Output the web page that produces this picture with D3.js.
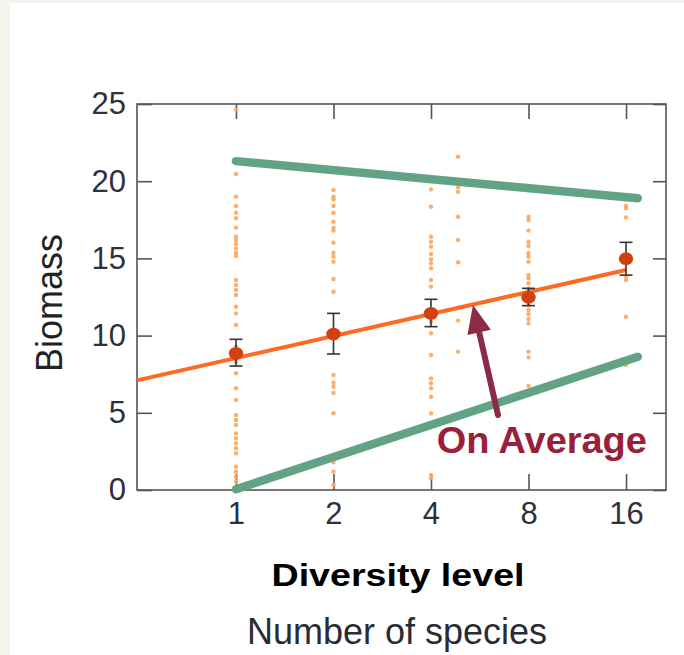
<!DOCTYPE html>
<html>
<head>
<meta charset="utf-8">
<script src="https://cdn.jsdelivr.net/npm/d3@7"></script>
<style>
  body { margin: 0; background: #f3f4eb; }
  svg { display: block; }
</style>
</head>
<body>
<svg></svg>
<script>
// diversity levels and group means
const levels = [1, 2, 4, 8, 16];
const means = [8.85, 10.1, 11.44, 12.48, 14.98];
const errLow = [8.03, 8.81, 10.58, 11.94, 13.92];
const errHigh = [9.76, 11.44, 12.35, 13.06, 16.04];

// individual plots per level
const plots1 = [24.65, 20.47, 19.0, 18.39, 17.96, 17.6, 16.99, 16.41, 16.19, 15.93, 15.65, 15.37, 15.16,
  13.6, 13.28, 12.95, 12.63, 11.87, 11.44, 10.69, 9.28, 8.31, 7.56, 6.59, 5.83, 4.86, 4.53, 4.21,
  3.67, 3.35, 3.02, 2.7, 2.38, 1.51, 1.19, 0.86, 0.54, 0.21];
const plots2 = [19.43, 19.0, 18.83, 18.39, 17.96, 17.38, 16.99, 16.8, 16.02, 15.37, 15.11, 14.79,
  13.67, 12.84, 7.45, 6.95, 6.69, 6.28, 4.97, 1.8, 1.19, 0.32];
const plots4 = [19.47, 18.35, 16.41, 16.08, 15.76, 15.28, 14.94, 14.68, 14.36, 13.6, 13.17, 10.9,
  10.15, 8.74, 7.23, 6.91, 6.59, 6.04, 4.96, 0.97, 0.76];
const plots5 = [21.59, 19.6, 19.32, 17.7, 16.19, 14.75, 10.97, 8.96];
const plots8 = [17.7, 17.49, 16.8, 16.08, 15.8, 15.33, 15.11, 14.79, 13.92, 13.71, 13.39, 13.06,
  11.98, 11.66, 11.38, 11.08, 10.79, 8.96, 8.59, 6.74];
const plots16 = [18.39, 18.24, 17.66, 13.82, 13.6, 11.22, 8.1];
const plotLevels = [1, 2, 4, 4.85, 8, 16];

// fitted line and envelope
const fitX = [0.4948, 16];
const fitY = [7.1, 14.25];
const upperX = [1, 17.4];
const upperY = [21.3, 18.9];
const lowerX = [1, 17.4];
const lowerY = [0.05, 8.63];

// annotation arrow (tail -> tip)
const arrowX = [6.44, 5.39];
const arrowY = [4.86, 11.98];

const yTicks = [0, 5, 10, 15, 20, 25];

const width = 684, height = 655;
const svg = d3.select('svg')
    .attr('width', width)
    .attr('height', height);

svg.append('rect')
    .attr('x', 10)
    .attr('y', 3)
    .attr('width', width - 10)
    .attr('height', height - 3)
    .attr('fill', '#ffffff');

const x = d3.scaleLog().base(2)
    .domain([0.4948, 21.26])
    .range([137, 666]);

const y = d3.scaleLinear()
    .domain([0, 25])
    .range([490, 104]);

const tickColor = '#30303a';
const frameColor = '#555555';

// axes with inside ticks on all sides
const styleAxis = g => {
  g.select('.domain').remove();
  g.selectAll('.tick line').attr('stroke', frameColor).attr('stroke-width', 1.6);
  g.selectAll('.tick text')
      .attr('fill', tickColor)
      .style('font-family', 'Liberation Sans, Arial, sans-serif')
      .style('font-size', '31px');
};

svg.append('g')
    .attr('transform', `translate(${x.range()[0]},0)`)
    .call(d3.axisLeft(y).tickValues(yTicks).tickSizeInner(-15).tickSizeOuter(0).tickPadding(11))
    .call(styleAxis);

svg.append('g')
    .attr('transform', `translate(${x.range()[1]},0)`)
    .call(d3.axisRight(y).tickValues(yTicks).tickSizeInner(-13).tickSizeOuter(0).tickFormat(''))
    .call(styleAxis);

svg.append('g')
    .attr('transform', `translate(0,${y.range()[0]})`)
    .call(d3.axisBottom(x).tickValues(levels).tickFormat(d3.format('d')).tickSizeInner(-16).tickSizeOuter(0).tickPadding(12))
    .call(styleAxis);

svg.append('g')
    .attr('transform', `translate(0,${y.range()[1]})`)
    .call(d3.axisTop(x).tickValues(levels).tickSizeInner(-15).tickSizeOuter(0).tickFormat(''))
    .call(styleAxis);

svg.append('rect')
    .attr('x', x.range()[0])
    .attr('y', y.range()[1])
    .attr('width', x.range()[1] - x.range()[0])
    .attr('height', y.range()[0] - y.range()[1])
    .attr('fill', 'none')
    .attr('stroke', frameColor)
    .attr('stroke-width', 1.6);

// scatter of plots
const plotGroups = [plots1, plots2, plots4, plots5, plots8, plots16];
const points = [];
plotGroups.forEach((vals, i) => vals.forEach(v => points.push({ level: plotLevels[i], value: v })));

svg.append('g')
  .selectAll('circle')
  .data(points)
  .join('circle')
    .attr('cx', d => x(d.level))
    .attr('cy', d => y(d.value))
    .attr('r', 2.2)
    .attr('fill', '#fca55a')
    .attr('opacity', 0.9);

const line = d3.line()
    .x(d => x(d[0]))
    .y(d => y(d[1]));

// green envelope lines
svg.append('path')
    .attr('d', line(d3.zip(upperX, upperY)))
    .attr('stroke', '#62a386')
    .attr('stroke-width', 8.5)
    .attr('stroke-linecap', 'round')
    .attr('fill', 'none');

svg.append('path')
    .attr('d', line(d3.zip(lowerX, lowerY)))
    .attr('stroke', '#62a386')
    .attr('stroke-width', 8.5)
    .attr('stroke-linecap', 'round')
    .attr('fill', 'none');

// fitted line
svg.append('path')
    .attr('d', line(d3.zip(fitX, fitY)))
    .attr('stroke', '#fc6a24')
    .attr('stroke-width', 4)
    .attr('fill', 'none');

// error bars and means
const meanData = levels.map((l, i) => ({ level: l, mean: means[i], lo: errLow[i], hi: errHigh[i] }));

const bars = svg.append('g')
    .attr('stroke', '#333333')
    .attr('stroke-width', 1.6);

bars.selectAll('.err')
  .data(meanData)
  .join('line')
    .attr('class', 'err')
    .attr('x1', d => x(d.level))
    .attr('x2', d => x(d.level))
    .attr('y1', d => y(d.lo))
    .attr('y2', d => y(d.hi));

bars.selectAll('.capLo')
  .data(meanData)
  .join('line')
    .attr('class', 'capLo')
    .attr('x1', d => x(d.level) - 6.5)
    .attr('x2', d => x(d.level) + 6.5)
    .attr('y1', d => y(d.lo))
    .attr('y2', d => y(d.lo));

bars.selectAll('.capHi')
  .data(meanData)
  .join('line')
    .attr('class', 'capHi')
    .attr('x1', d => x(d.level) - 6.5)
    .attr('x2', d => x(d.level) + 6.5)
    .attr('y1', d => y(d.hi))
    .attr('y2', d => y(d.hi));

svg.append('g')
  .selectAll('ellipse')
  .data(meanData)
  .join('ellipse')
    .attr('cx', d => x(d.level))
    .attr('cy', d => y(d.mean))
    .attr('rx', 7.2)
    .attr('ry', 6.4)
    .attr('fill', '#d2400f');

// annotation arrow
const arrowColor = '#8d2b47';
const tx = x(arrowX[0]), ty = y(arrowY[0]);
const hx = x(arrowX[1]), hy = y(arrowY[1]);
const ang = Math.atan2(hy - ty, hx - tx);
const headLen = 28, headHalf = 12;
const bx = hx - headLen * Math.cos(ang), by = hy - headLen * Math.sin(ang);

svg.append('line')
    .attr('x1', tx)
    .attr('y1', ty)
    .attr('x2', bx + 4 * Math.cos(ang))
    .attr('y2', by + 4 * Math.sin(ang))
    .attr('stroke', arrowColor)
    .attr('stroke-width', 6)
    .attr('stroke-linecap', 'round');

svg.append('path')
    .attr('d', `M${hx},${hy}L${bx - headHalf * Math.sin(ang)},${by + headHalf * Math.cos(ang)}L${bx + headHalf * Math.sin(ang)},${by - headHalf * Math.cos(ang)}Z`)
    .attr('fill', arrowColor);

svg.append('text')
    .attr('x', x(4.17))
    .attr('y', y(2.4))
    .attr('fill', '#9a2039')
    .attr('textLength', 210)
    .attr('lengthAdjust', 'spacingAndGlyphs')
    .style('font-family', 'Liberation Sans, Arial, sans-serif')
    .style('font-weight', 'bold')
    .style('font-size', '36px')
    .text('On Average');

// axis titles
svg.append('text')
    .attr('transform', 'translate(62,303) rotate(-90)')
    .attr('text-anchor', 'middle')
    .attr('fill', '#222222')
    .style('font-family', 'Liberation Sans, Arial, sans-serif')
    .style('font-size', '36px')
    .text('Biomass');

svg.append('text')
    .attr('x', 398)
    .attr('y', 586)
    .attr('text-anchor', 'middle')
    .attr('fill', '#000000')
    .attr('textLength', 253)
    .attr('lengthAdjust', 'spacingAndGlyphs')
    .style('font-family', 'Liberation Sans, Arial, sans-serif')
    .style('font-weight', 'bold')
    .style('font-size', '32px')
    .text('Diversity level');

svg.append('text')
    .attr('x', 397)
    .attr('y', 644)
    .attr('text-anchor', 'middle')
    .attr('fill', '#2b2b33')
    .style('font-family', 'Liberation Sans, Arial, sans-serif')
    .style('font-size', '36px')
    .text('Number of species');
</script>
</body>
</html>
